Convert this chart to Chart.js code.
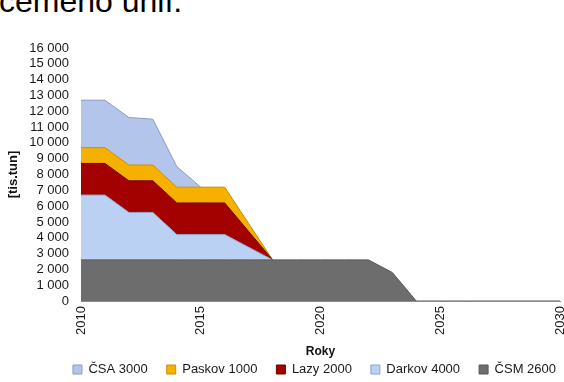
<!DOCTYPE html>
<html>
<head>
<meta charset="utf-8">
<script src="https://cdn.jsdelivr.net/npm/chart.js@4.4.0/dist/chart.umd.min.js"></script>
<style>
  body { margin: 0; background: #fff; }
  #wrap { position: relative; width: 564px; height: 382px; overflow: hidden; }
  #nadpis {
    position: absolute; left: -1px; top: -15px;
    font: 32px "Liberation Sans", Arial, sans-serif; line-height: 32px;
    color: #000; white-space: nowrap;
  }
  canvas { position: absolute; left: 0; top: 0; }
</style>
</head>
<body>
<div id="wrap">
  <div id="nadpis">cemeno uhlí.</div>
  <canvas id="tezba" width="564" height="382"></canvas>
</div>
<script>
// roky na ose x
const roky = ['2010', '2011', '2012', '2013', '2014', '2015', '2016', '2017', '2018', '2019',
  '2020', '2021', '2022', '2023', '2024', '2025', '2026', '2027', '2028', '2029', '2030'];

// těžba jednotlivých dolů [tis.tun], null = důl už netěží
const csm = [2600, 2600, 2600, 2600, 2600, 2600, 2600, 2600, 2600, 2600,
  2600, 2600, 2600, 1800, 0, 0, 0, 0, 0, 0, 0];
const darkov = [4100, 4100, 3000, 3000, 1600, 1600, 1600, 800, 0, null,
  null, null, null, null, null, null, null, null, null, null, null];
const lazy = [2000, 2000, 2000, 2000, 2000, 2000, 2000, 1000, 0, null,
  null, null, null, null, null, null, null, null, null, null, null];
const paskov = [1000, 1000, 1000, 1000, 1000, 1000, 1000, 500, 0, null,
  null, null, null, null, null, null, null, null, null, null, null];
const csa = [3000, 3000, 3000, 2900, 1300, 0, null, null, null, null,
  null, null, null, null, null, null, null, null, null, null, null];

const font = '"Liberation Sans", Arial, sans-serif';

function vrstva(nazev, data, barva, okraj, prvni) {
  return {
    label: nazev,
    data: data,
    backgroundColor: barva,
    borderColor: okraj,
    borderWidth: 1,
    pointRadius: 0,
    tension: 0,
    fill: prvni ? 'origin' : '-1'
  };
}

// posune legendu doprava (jinak končí o mezeru před okrajem)
const posunLegendy = {
  id: 'posunLegendy',
  afterLayout: function(chart) {
    chart.legend.right += 15;
  }
};

var ctx = document.getElementById('tezba').getContext('2d');
var graf = new Chart(ctx, {
  type: 'line',
  data: {
    labels: roky,
    // od spodu nahoru, legenda je obrácená
    datasets: [
      vrstva('ČSM 2600', csm, '#6d6d6d', '#565656', true),
      vrstva('Darkov 4000', darkov, '#bad1f3', '#8aa5cc', false),
      vrstva('Lazy 2000', lazy, '#a30000', '#700000', false),
      vrstva('Paskov 1000', paskov, '#f6b000', '#c98f00', false),
      vrstva('ČSA 3000', csa, '#b4c5ec', '#8b9ac0', false)
    ]
  },
  plugins: [posunLegendy],
  options: {
    responsive: false,
    animation: false,
    // legenda trochu přesahuje dolní okraj, aby byla blíž popisku osy
    layout: { padding: { top: 48, right: 4, left: 0, bottom: -4 } },
    plugins: {
      tooltip: { enabled: false },
      legend: {
        position: 'bottom',
        align: 'end',
        reverse: true,
        labels: {
          boxWidth: 9,
          boxHeight: 9,
          padding: 19,
          color: '#1a1a1a',
          font: { family: font, size: 13 }
        }
      }
    },
    scales: {
      x: {
        grid: { display: false, drawTicks: false },
        border: { display: true, color: '#8a8a8a', width: 1 },
        ticks: {
          autoSkip: false,
          minRotation: 90,
          maxRotation: 90,
          padding: 5,
          color: '#1a1a1a',
          font: { family: font, size: 13 },
          callback: function(v, i) {
            var r = roky[i];
            return Number(r) % 5 === 0 ? r : '';
          }
        },
        title: {
          display: true,
          text: 'Roky',
          color: '#111',
          padding: { top: 0, bottom: -15 },
          font: { family: font, size: 12, weight: 'bold' }
        },
        afterFit: function(s) {
          s.height = 43;
          s.paddingLeft = 0;
          s.paddingRight = 0;
        }
      },
      y: {
        stacked: true,
        min: 0,
        max: 16000,
        grid: { display: false, drawTicks: false },
        border: { display: false },
        ticks: {
          stepSize: 1000,
          autoSkip: false,
          padding: 12,
          color: '#1a1a1a',
          font: { family: font, size: 13 },
          callback: function(v) {
            return v.toLocaleString('cs-CZ').replace(/\s/g, ' ');
          }
        },
        title: {
          display: true,
          text: '[tis.tun]',
          color: '#111',
          padding: { top: 6, bottom: 0 },
          font: { family: font, size: 13, weight: 'bold' }
        },
        afterFit: function(s) { s.width = 81; }
      }
    }
  }
});
</script>
</body>
</html>
